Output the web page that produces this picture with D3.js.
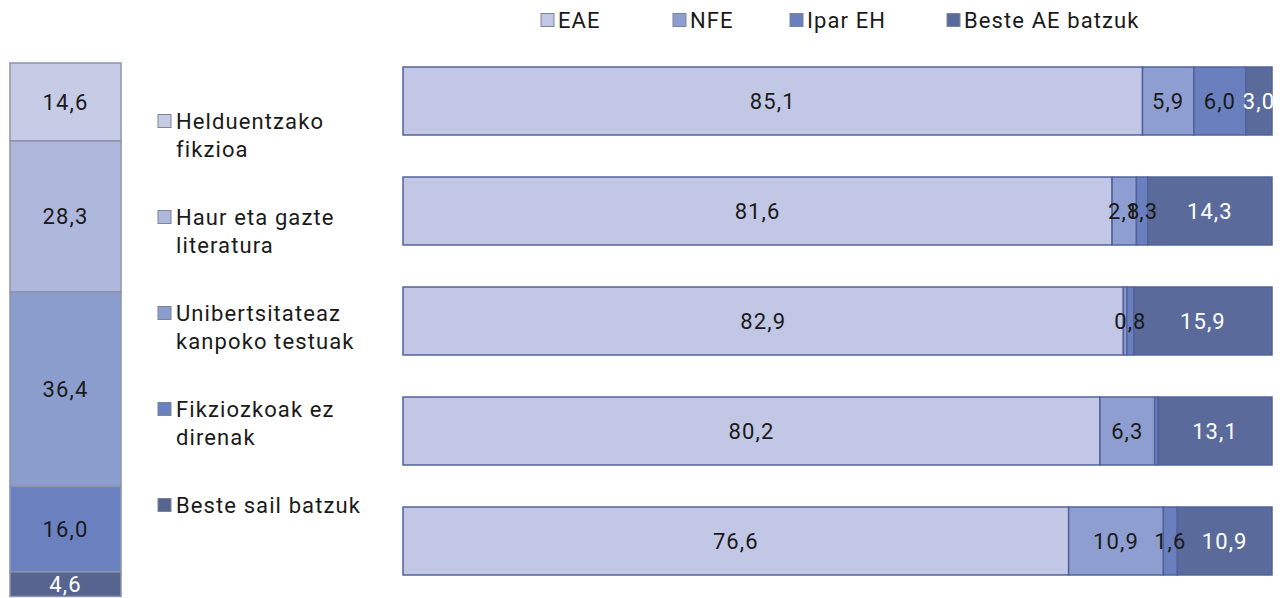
<!DOCTYPE html>
<html>
<head>
<meta charset="utf-8">
<script src="https://cdn.jsdelivr.net/npm/d3@7"></script>
<style>
  body { margin: 0; background: #fff; }
  svg { font-family: Roboto, "Noto Sans", sans-serif; }
</style>
</head>
<body>
<svg id="chart" width="1286" height="598"></svg>
<script>
// left column: share of each category
const categories = ['Helduentzako fikzioa', 'Haur eta gazte literatura', 'Unibertsitateaz kanpoko testuak', 'Fikziozkoak ez direnak', 'Beste sail batzuk']
const categoryLines = [['Helduentzako', 'fikzioa'], ['Haur eta gazte', 'literatura'], ['Unibertsitateaz', 'kanpoko testuak'], ['Fikziozkoak ez', 'direnak'], ['Beste sail batzuk']]
const categoryShare = [14.6, 28.3, 36.4, 16.0, 4.6]

// right bars: origin by category
const regions = ['EAE', 'NFE', 'Ipar EH', 'Beste AE batzuk']
const eae = [85.1, 81.6, 82.9, 80.2, 76.6]
const nfe = [5.9, 2.8, 0.4, 6.3, 10.9]
const iparEH = [6.0, 1.3, 0.8, 0.4, 1.6]
const besteAE = [3.0, 14.3, 15.9, 13.1, 10.9]

const catColors = ['#c6cbe6', '#aeb7dc', '#8a9dcd', '#6b80be', '#56648f']
const regionColors = ['#c1c7e4', '#8f9ed0', '#6a7fbe', '#5a6a9b']
const regionText = ['#1a1a1a', '#1a1a1a', '#1a1a1a', '#ffffff']

const FONT = 22
const SPACING = 1.1

const fmt = v => v.toFixed(1).replace('.', ',')

const svg = d3.select('#chart')

// ---- left stacked column ----
const colY = d3.scaleLinear().domain([0, 100]).range([63, 597])
let acc = 0
const colData = categoryShare.map((v, i) => {
    const d = {cat: categories[i], v, y0: acc, y1: acc + v, i}
    acc += v
    return d
})

const colG = svg.append('g')
colG.selectAll('rect')
    .data(colData)
    .enter()
    .append('rect')
    .attr('x', 10)
    .attr('width', 111)
    .attr('y', d => colY(d.y0))
    .attr('height', d => colY(d.y1) - colY(d.y0))
    .attr('fill', d => catColors[d.i])
    .attr('stroke', '#8d94ab')
    .attr('stroke-width', 1.5)

colG.selectAll('text')
    .data(colData)
    .enter()
    .append('text')
    .attr('x', 65.5)
    .attr('y', d => (colY(d.y0) + colY(d.y1)) / 2)
    .attr('dy', '0.35em')
    .attr('text-anchor', 'middle')
    .attr('font-size', FONT)
    .attr('letter-spacing', SPACING)
    .attr('fill', d => d.i === 4 ? '#ffffff' : '#1a1a1a')
    .text(d => fmt(d.v))

// ---- category legend ----
const legY = d3.scalePoint().domain(categories).range([121, 505])

const legG = svg.append('g')
categories.forEach((c, i) => {
    const g = legG.append('g').attr('transform', `translate(158,${legY(c)})`)
    g.append('rect')
        .attr('x', 0).attr('y', -6.5)
        .attr('width', 13).attr('height', 13)
        .attr('fill', catColors[i])
        .attr('stroke', '#7d849a')
        .attr('stroke-width', 1)
    const t = g.append('text')
        .attr('font-size', FONT)
        .attr('letter-spacing', SPACING)
        .attr('fill', '#1a1a1a')
    categoryLines[i].forEach((l, j) => {
        t.append('tspan').attr('x', 18).attr('y', j * 28).attr('dy', '0.35em').text(l)
    })
})

// ---- right stacked bars ----
const x = d3.scaleLinear().domain([0, 100]).range([403, 1272])
const y = d3.scaleBand().domain(categories).range([46, 596]).paddingInner(0.382).paddingOuter(0.191)
const rows = categories.map((c, i) => ({cat: c, values: [eae[i], nfe[i], iparEH[i], besteAE[i]]}))

const barsG = svg.append('g')
rows.forEach(r => {
    let s = 0
    const segs = r.values.map((v, k) => {
        const d = {v, x0: s, x1: s + v, k}
        s += v
        return d
    })
    const g = barsG.append('g')
    g.selectAll('rect')
        .data(segs)
        .enter()
        .append('rect')
        .attr('x', d => x(d.x0))
        .attr('width', d => x(d.x1) - x(d.x0))
        .attr('y', y(r.cat))
        .attr('height', y.bandwidth())
        .attr('fill', d => regionColors[d.k])
        .attr('stroke', '#52629a')
        .attr('stroke-width', 1.5)
    g.selectAll('text')
        .data(segs.filter(d => d.v >= 0.5))
        .enter()
        .append('text')
        .attr('x', d => (x(d.x0) + x(d.x1)) / 2)
        .attr('y', y(r.cat) + y.bandwidth() / 2)
        .attr('dy', '0.35em')
        .attr('text-anchor', 'middle')
        .attr('font-size', FONT)
        .attr('letter-spacing', SPACING)
        .attr('fill', d => regionText[d.k])
        .text(d => fmt(d.v))
})

// ---- top legend ----
const legPos = [541, 673, 790, 947]
const topG = svg.append('g')
regions.forEach((r, i) => {
    const g = topG.append('g').attr('transform', `translate(${legPos[i]},20)`)
    g.append('rect')
        .attr('x', 0).attr('y', -6.5)
        .attr('width', 13).attr('height', 13)
        .attr('fill', regionColors[i])
        .attr('stroke', '#7d849a')
        .attr('stroke-width', 1)
    g.append('text')
        .attr('x', 17)
        .attr('dy', '0.35em')
        .attr('font-size', FONT)
        .attr('letter-spacing', SPACING)
        .attr('fill', '#1a1a1a')
        .text(r)
})
</script>
</body>
</html>
